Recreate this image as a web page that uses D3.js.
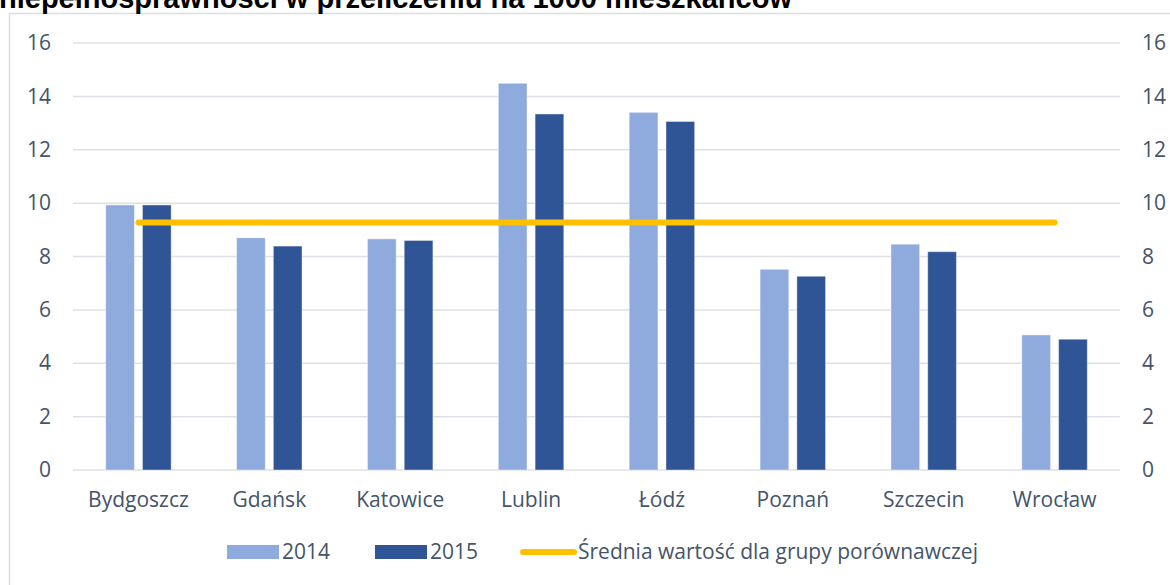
<!DOCTYPE html>
<html>
<head>
<meta charset="utf-8">
<script src="https://cdn.jsdelivr.net/npm/d3@7"></script>
<style>
  body { margin: 0; background: #fff; }
  svg { display: block; }
  .tick text { font-family: "Open Sans", Lato, sans-serif; fill: #44546a; }
</style>
</head>
<body>
<div id="chart"></div>
<script>
// dane
var cities = ["Bydgoszcz", "Gdańsk", "Katowice", "Lublin", "Łódź", "Poznań", "Szczecin", "Wrocław"];
var years = ["2014", "2015"];
var values2014 = [9.93, 8.70, 8.66, 14.49, 13.40, 7.52, 8.46, 5.06];
var values2015 = [9.93, 8.39, 8.60, 13.34, 13.06, 7.26, 8.18, 4.90];
var average = 9.27;
var avgLabel = "Średnia wartość dla grupy porównawczej";
var yTicks = [0, 2, 4, 6, 8, 10, 12, 14, 16];
var title = "niepełnosprawności w przeliczeniu na 1000 mieszkańców";

var outerWidth = 1170,
    outerHeight = 585;
var margin = { top: 43, right: 50, bottom: 115, left: 73 },
    width = outerWidth - margin.left - margin.right,
    height = outerHeight - margin.top - margin.bottom;

var colors = { "2014": "#8faadc", "2015": "#2f5597" };
var textColor = "#44546a";
var fontFam = "'Open Sans', Lato, sans-serif";
var fontSize = "21px";

var rows = cities.map(function(c, i) {
    return { city: c, "2014": values2014[i], "2015": values2015[i] };
});

var svg = d3.select("#chart")
    .append("svg")
    .attr("width", outerWidth)
    .attr("height", outerHeight);

// ramka wykresu
svg.append("rect")
    .attr("x", 9.5)
    .attr("y", 13.5)
    .attr("width", outerWidth)
    .attr("height", outerHeight)
    .attr("fill", "none")
    .attr("stroke", "#d9dde3")
    .attr("stroke-width", 1.5);

// tytul (uciety u gory)
svg.append("text")
    .attr("x", -1)
    .attr("y", 8)
    .style("font-family", "'Liberation Sans', Arial, sans-serif")
    .style("font-weight", "bold")
    .style("font-size", "29px")
    .style("fill", "#000")
    .text(title);

var g = svg.append("g")
    .attr("transform", "translate(" + margin.left + "," + margin.top + ")");

var x = d3.scaleBand()
    .domain(cities)
    .range([0, width])
    .paddingInner(0.5)
    .paddingOuter(0.25);

var x1 = d3.scaleBand()
    .domain(years)
    .range([0, x.bandwidth()])
    .paddingInner(0.22);

var y = d3.scaleLinear()
    .domain([0, 16])
    .range([height, 0]);

// siatka
g.append("g")
    .selectAll("line")
    .data(yTicks)
    .enter().append("line")
    .attr("x1", 0)
    .attr("x2", width)
    .attr("y1", function(d) { return y(d); })
    .attr("y2", function(d) { return y(d); })
    .attr("stroke", "#dde1e7")
    .attr("stroke-width", 1.5);

// osie Y
var yAxisL = g.append("g")
    .call(d3.axisLeft(y).tickValues(yTicks).tickSize(0).tickPadding(22));
var yAxisR = g.append("g")
    .attr("transform", "translate(" + width + ",0)")
    .call(d3.axisRight(y).tickValues(yTicks).tickSize(0).tickPadding(22));
[yAxisL, yAxisR].forEach(function(a) {
    a.select(".domain").remove();
    a.selectAll("text").style("font-size", fontSize);
});

// os X
var xAxis = g.append("g")
    .attr("transform", "translate(0," + height + ")")
    .call(d3.axisBottom(x).tickSize(0).tickPadding(22));
xAxis.select(".domain").remove();
xAxis.selectAll("text").style("font-size", fontSize);

// slupki
g.append("g")
    .selectAll("g")
    .data(rows)
    .enter().append("g")
    .attr("transform", function(d) { return "translate(" + x(d.city) + ",0)"; })
    .selectAll("rect")
    .data(function(d) { return years.map(function(k) { return { key: k, value: d[k] }; }); })
    .enter().append("rect")
    .attr("x", function(d) { return x1(d.key); })
    .attr("y", function(d) { return y(d.value); })
    .attr("width", x1.bandwidth())
    .attr("height", function(d) { return height - y(d.value); })
    .attr("fill", function(d) { return colors[d.key]; })
    .attr("stroke", "#fff")
    .attr("stroke-opacity", 0.4)
    .attr("stroke-width", 1);

// linia sredniej
var avgLine = d3.line()
    .x(function(d) { return x(d) + x.bandwidth() / 2; })
    .y(function() { return y(average); });
g.append("path")
    .datum([cities[0], cities[cities.length - 1]])
    .attr("d", avgLine)
    .attr("fill", "none")
    .attr("stroke", "#ffc000")
    .attr("stroke-width", 6)
    .attr("stroke-linecap", "round");

// legenda
var legend = svg.append("g").attr("transform", "translate(0,552)");
var legItems = [
    { type: "rect", color: colors["2014"], label: "2014", x: 227 },
    { type: "rect", color: colors["2015"], label: "2015", x: 375 },
    { type: "line", color: "#ffc000", label: avgLabel, x: 520 }
];
legItems.forEach(function(it) {
    if (it.type === "rect") {
        legend.append("rect")
            .attr("x", it.x).attr("y", -7)
            .attr("width", 52).attr("height", 14)
            .attr("fill", it.color);
    } else {
        legend.append("line")
            .attr("x1", it.x + 3).attr("x2", it.x + 54)
            .attr("y1", 0).attr("y2", 0)
            .attr("stroke", it.color)
            .attr("stroke-width", 6)
            .attr("stroke-linecap", "round");
    }
    legend.append("text")
        .attr("x", it.x + (it.type === "rect" ? 55 : 58))
        .attr("y", 0)
        .attr("dy", "0.35em")
        .style("font-family", fontFam)
        .style("font-size", fontSize)
        .style("fill", textColor)
        .text(it.label);
});
</script>
</body>
</html>
